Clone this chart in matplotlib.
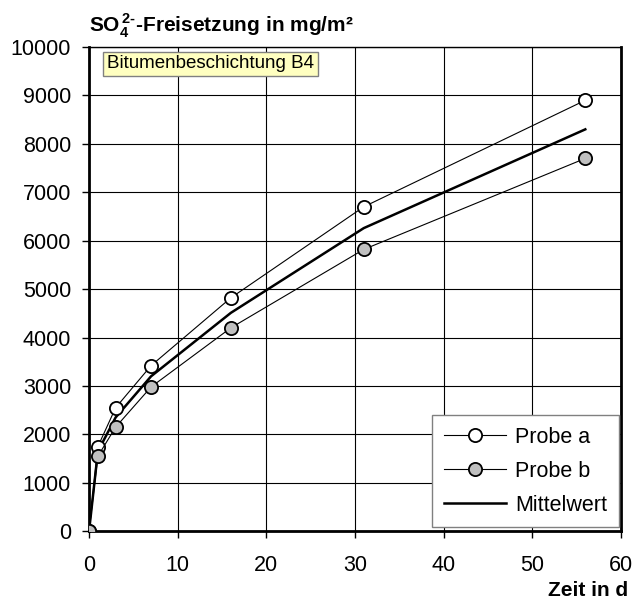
import numpy as np
import matplotlib.pyplot as plt

plt.rcParams['font.family'] = ['Liberation Sans', 'DejaVu Sans']
plt.rcParams['mathtext.fontset'] = 'custom'
plt.rcParams['mathtext.rm'] = 'Liberation Sans:bold'
plt.rcParams['mathtext.bf'] = 'Liberation Sans:bold'

# Daten
zeit = [0, 1, 3, 7, 16, 31, 56]
probe_a = [0, 1750, 2550, 3420, 4820, 6700, 8900]
probe_b = [0, 1550, 2150, 2980, 4200, 5820, 7700]
mittelwert = [0, 1650, 2350, 3200, 4510, 6260, 8300]

fig = plt.figure(figsize=(6.36, 6.03), dpi=100)
ax = fig.add_axes([0.140, 0.119, 0.836, 0.803])

ax.plot(zeit, probe_a, color='black', linewidth=0.8, marker='o', markersize=9.5,
        markerfacecolor='white', markeredgecolor='black', markeredgewidth=1.3,
        label='Probe a', zorder=4)
ax.plot(zeit, probe_b, color='black', linewidth=0.8, marker='o', markersize=9.5,
        markerfacecolor='#c0c0c0', markeredgecolor='black', markeredgewidth=1.3,
        label='Probe b', zorder=4)
ax.plot(zeit, mittelwert, color='black', linewidth=1.8, label='Mittelwert', zorder=3)

ax.set_xlim(0, 60)
ax.set_ylim(0, 10000)
ax.set_xticks(np.arange(0, 61, 10))
ax.set_yticks(np.arange(0, 10001, 1000))
ax.grid(True, color='black', linewidth=0.8)
ax.set_axisbelow(True)
ax.tick_params(direction='out', length=5, width=1, labelsize=15.5)
ax.tick_params(axis='x', pad=12)
ax.tick_params(axis='y', pad=8)
for side in ['left', 'bottom', 'right']:
    ax.spines[side].set_linewidth(2)
ax.spines['top'].set_linewidth(1)

ax.text(2.0, 9650, 'Bitumenbeschichtung B4', fontsize=13.5, va='center', ha='left',
        bbox=dict(boxstyle='square,pad=0.2', facecolor='#ffffc0', edgecolor='gray'),
        zorder=5)

leg = ax.legend(loc='lower right', fontsize=15.5, frameon=True, fancybox=False,
                edgecolor='gray', framealpha=1, borderpad=0.55, labelspacing=0.6,
                handlelength=2.9, handletextpad=0.4, borderaxespad=0,
                bbox_to_anchor=(0.996, 0.008))
leg.get_frame().set_linewidth(1)

fig.text(0.140, 0.947, r'SO$_{4}^{\,2\text{-}}$-Freisetzung in mg/m²', fontsize=15,
         fontweight='bold', ha='left', va='baseline')
fig.text(0.987, 0.012, 'Zeit in d', fontsize=15, fontweight='bold', ha='right',
         va='baseline')

fig.savefig('out.png', dpi=100)
